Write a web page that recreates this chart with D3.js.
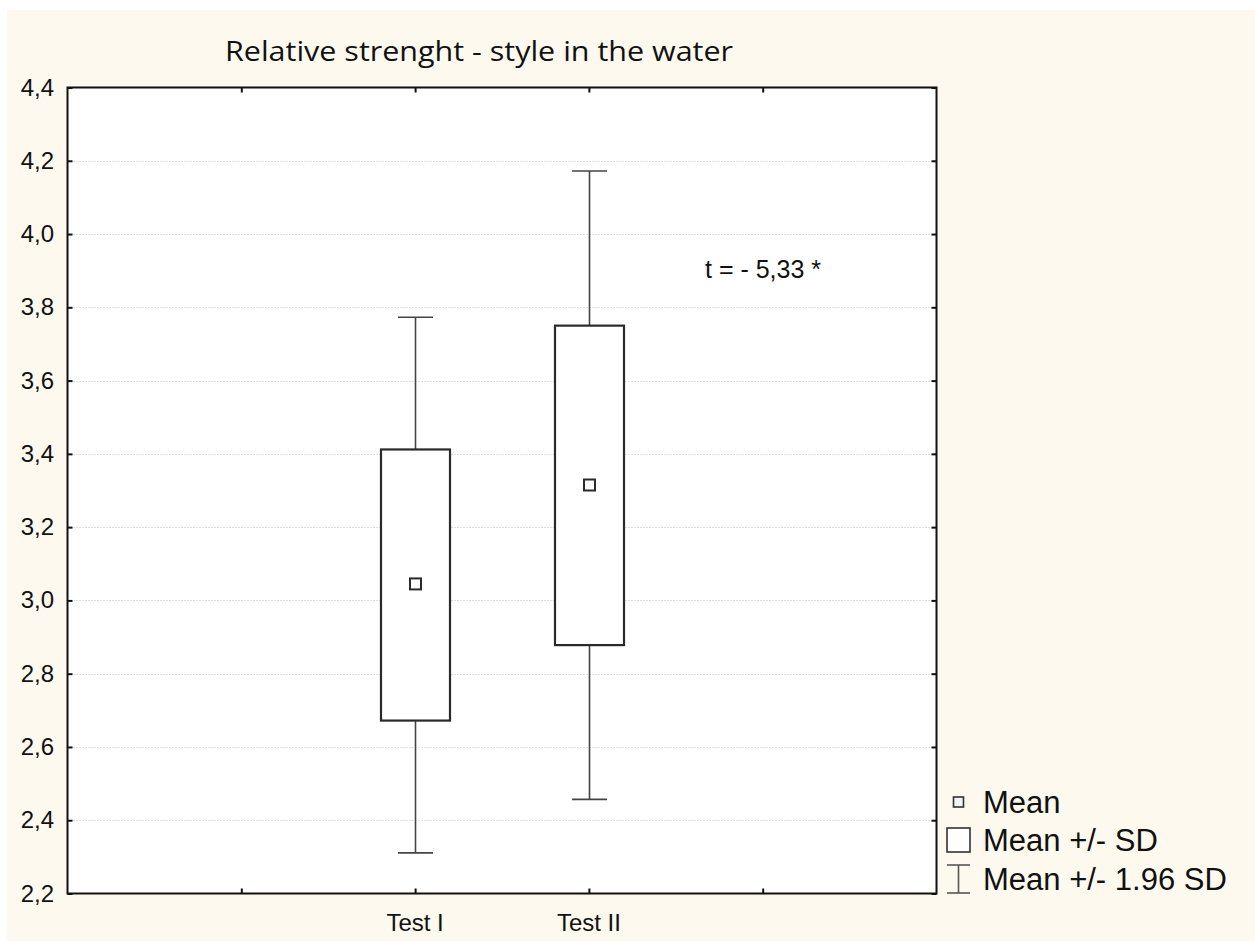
<!DOCTYPE html>
<html>
<head>
<meta charset="utf-8">
<script src="https://cdn.jsdelivr.net/npm/d3@7"></script>
<style>
  html, body { margin: 0; padding: 0; background: #ffffff; }
  svg { display: block; }
</style>
</head>
<body>
<svg id="chart" width="1255" height="942"></svg>
<script>
// ---- data ----
const categories = ["Test I", "Test II"];
const categoryPos = [2, 3];
const means = [3.045, 3.315];
const sdLow = [2.672, 2.878];
const sdHigh = [3.412, 3.750];
const ciLow = [2.311, 2.457];
const ciHigh = [3.773, 4.172];
const yTicks = [2.2, 2.4, 2.6, 2.8, 3.0, 3.2, 3.4, 3.6, 3.8, 4.0, 4.2, 4.4];
const xTickPos = [1, 2, 3, 4];
const title = "Relative strenght - style in the water";
const annotation = "t = - 5,33 *";
const legendLabels = ["Mean", "Mean +/- SD", "Mean +/- 1.96 SD"];

// ---- layout ----
const W = 1255, H = 942;
const L = 67.5, R = 936.5, T = 87.5, B = 893.5;
const svg = d3.select("#chart");

svg.append("rect").attr("x", 7).attr("y", 10).attr("width", W - 7).attr("height", H - 11)
  .attr("fill", "#fef9ee");
svg.append("rect").attr("x", L).attr("y", T).attr("width", R - L).attr("height", B - T)
  .attr("fill", "#ffffff");

const y = d3.scaleLinear().domain([2.2, 4.4]).range([B, T]);
const x = d3.scaleLinear().domain([0, 5]).range([L, R]);
const fmt = v => d3.format(".1f")(v).replace(".", ",");

// grid lines
svg.append("g").selectAll("line").data(yTicks.filter(v => v > 2.2 && v < 4.4)).join("line")
  .attr("x1", L).attr("x2", R)
  .attr("y1", d => Math.round(y(d)) + 0.5).attr("y2", d => Math.round(y(d)) + 0.5)
  .attr("stroke", "#bdbdbd").attr("stroke-width", 1).attr("stroke-dasharray", "1,2");

// axes (ticks inward)
const tickLen = 5;
const gL = svg.append("g").attr("transform", `translate(${L},0)`)
  .call(d3.axisRight(y).tickValues(yTicks).tickSize(tickLen).tickFormat(""));
const gR = svg.append("g").attr("transform", `translate(${R},0)`)
  .call(d3.axisLeft(y).tickValues(yTicks).tickSize(tickLen).tickFormat(""));
const gB = svg.append("g").attr("transform", `translate(0,${B})`)
  .call(d3.axisTop(x).tickValues(xTickPos).tickSize(tickLen).tickFormat(""));
const gT = svg.append("g").attr("transform", `translate(0,${T})`)
  .call(d3.axisBottom(x).tickValues(xTickPos).tickSize(tickLen).tickFormat(""));
[gL, gR, gB, gT].forEach(g => {
  g.select(".domain").remove();
  g.selectAll("line").attr("stroke", "#111").attr("stroke-width", 2);
});

// frame
svg.append("rect").attr("x", L).attr("y", T).attr("width", R - L).attr("height", B - T)
  .attr("fill", "none").attr("stroke", "#111").attr("stroke-width", 2);

// y labels
svg.append("g").selectAll("text").data(yTicks).join("text")
  .attr("x", 54).attr("y", d => y(d) + 8)
  .attr("text-anchor", "end")
  .attr("font-family", "Liberation Sans, Arial, sans-serif")
  .attr("font-size", 24).attr("fill", "#111")
  .text(fmt);

// x labels
svg.append("g").selectAll("text").data(categories).join("text")
  .attr("x", (d, i) => x(categoryPos[i])).attr("y", 931)
  .attr("text-anchor", "middle")
  .attr("font-family", "Liberation Sans, Arial, sans-serif")
  .attr("font-size", 24).attr("fill", "#111")
  .text(d => d);

// title
svg.append("text").attr("x", 479).attr("y", 61).attr("text-anchor", "middle")
  .attr("font-family", "Open Sans, sans-serif").attr("font-size", 28)
  .attr("textLength", 508).attr("lengthAdjust", "spacingAndGlyphs")
  .attr("fill", "#111").text(title);

// boxes
const boxW = 69, capW = 35, meanS = 11;
const g = svg.append("g");
categories.forEach((c, i) => {
  const cx = Math.round(x(categoryPos[i])) + 0.5;
  // whiskers
  g.append("line").attr("x1", cx).attr("x2", cx).attr("y1", y(ciHigh[i])).attr("y2", y(sdHigh[i]))
    .attr("stroke", "#444").attr("stroke-width", 1.6);
  g.append("line").attr("x1", cx).attr("x2", cx).attr("y1", y(sdLow[i])).attr("y2", y(ciLow[i]))
    .attr("stroke", "#444").attr("stroke-width", 1.6);
  [ciHigh[i], ciLow[i]].forEach(v => {
    g.append("line").attr("x1", cx - capW / 2).attr("x2", cx + capW / 2)
      .attr("y1", y(v)).attr("y2", y(v)).attr("stroke", "#444").attr("stroke-width", 1.6);
  });
  // SD box
  g.append("rect").attr("x", cx - boxW / 2).attr("y", y(sdHigh[i]))
    .attr("width", boxW).attr("height", y(sdLow[i]) - y(sdHigh[i]))
    .attr("fill", "#ffffff").attr("stroke", "#2a2a2a").attr("stroke-width", 2.2);
  // mean marker
  g.append("rect").attr("x", cx - meanS / 2).attr("y", y(means[i]) - meanS / 2)
    .attr("width", meanS).attr("height", meanS)
    .attr("fill", "#ffffff").attr("stroke", "#2a2a2a").attr("stroke-width", 2);
});

// annotation
svg.append("text").attr("x", 705).attr("y", 278)
  .attr("font-family", "Liberation Sans, Arial, sans-serif").attr("font-size", 25)
  .attr("fill", "#111").text(annotation);

// legend
const lg = svg.append("g");
const lx = 958.5;
lg.append("rect").attr("x", lx - 5).attr("y", 797).attr("width", 10).attr("height", 10)
  .attr("fill", "#f4f4f4").attr("stroke", "#333").attr("stroke-width", 1.6);
lg.append("rect").attr("x", lx - 11.5).attr("y", 828).attr("width", 23).attr("height", 24)
  .attr("fill", "#ffffff").attr("stroke", "#333").attr("stroke-width", 1.6);
lg.append("line").attr("x1", lx - 11.5).attr("x2", lx + 11.5).attr("y1", 865).attr("y2", 865)
  .attr("stroke", "#555").attr("stroke-width", 1.6);
lg.append("line").attr("x1", lx - 11.5).attr("x2", lx + 11.5).attr("y1", 893).attr("y2", 893)
  .attr("stroke", "#555").attr("stroke-width", 1.6);
lg.append("line").attr("x1", lx).attr("x2", lx).attr("y1", 865).attr("y2", 893)
  .attr("stroke", "#555").attr("stroke-width", 1.6);
const legendY = [813, 851, 890];
lg.selectAll("text").data(legendLabels).join("text")
  .attr("x", 983).attr("y", (d, i) => legendY[i])
  .attr("font-family", "Liberation Sans, Arial, sans-serif").attr("font-size", 31)
  .attr("fill", "#111").text(d => d);
</script>
</body>
</html>
